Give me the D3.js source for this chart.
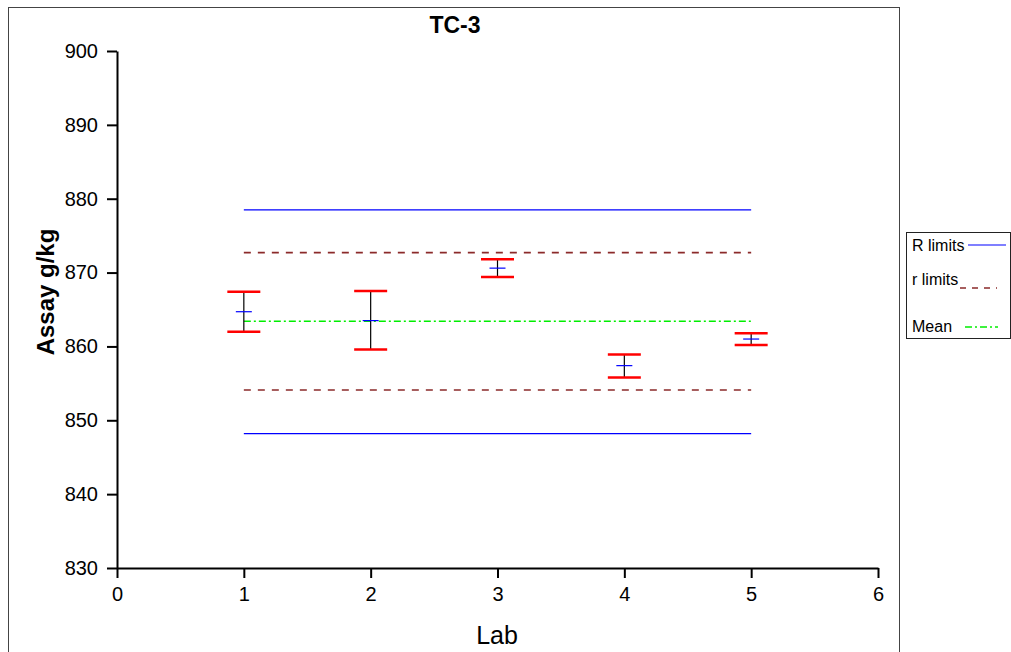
<!DOCTYPE html>
<html>
<head>
<meta charset="utf-8">
<script src="https://cdn.jsdelivr.net/npm/d3@7"></script>
<style>
    body { margin: 0; background: #fff; }
    text { font-family: Arial, "Liberation Sans", sans-serif; }
</style>
</head>
<body>
<svg id="chart" width="1011" height="652"></svg>
<script>
const labs = [1, 2, 3, 4, 5];
const labMeans = [864.7, 863.5, 870.6, 857.4, 861.0];
const labUpper = [867.4, 867.5, 871.8, 858.9, 861.8];
const labLower = [862.0, 859.6, 869.4, 855.8, 860.2];

const reproLimits = [848.2, 878.5];   // R limits
const repeatLimits = [854.1, 872.7];  // r limits
const grandMean = 863.4;

const xTicks = [0, 1, 2, 3, 4, 5, 6];
const yTicks = [830, 840, 850, 860, 870, 880, 890, 900];

const svg = d3.select("#chart");

const xScale = d3.scaleLinear().domain([0, 6]).range([117, 878]);
const yScale = d3.scaleLinear().domain([830, 900]).range([568, 51]);

// outer frame
svg.append("rect")
    .attr("x", 8.5).attr("y", 7.5)
    .attr("width", 891).attr("height", 660)
    .attr("fill", "none").attr("stroke", "#444").attr("stroke-width", 1);

// title
svg.append("text")
    .attr("x", 455).attr("y", 33)
    .attr("text-anchor", "middle")
    .style("font-size", "23px").style("font-weight", "bold")
    .text("TC-3");

// axes
const yAxis = svg.append("g")
    .attr("transform", `translate(${xScale(0)},0)`)
    .call(d3.axisLeft(yScale).tickValues(yTicks).tickFormat(d3.format("d"))
        .tickSize(10).tickPadding(9).tickSizeOuter(0));
const xAxis = svg.append("g")
    .attr("transform", `translate(0,${yScale(830)})`)
    .call(d3.axisBottom(xScale).tickValues(xTicks).tickFormat(d3.format("d"))
        .tickSize(10).tickPadding(9).tickSizeOuter(0));

[xAxis, yAxis].forEach(function (g) {
    g.attr("font-size", null).attr("font-family", null);
    g.select(".domain").attr("stroke", "#000").attr("stroke-width", 2);
    g.selectAll(".tick line").attr("stroke", "#000").attr("stroke-width", 2);
    g.selectAll(".tick text")
        .attr("fill", "#000")
        .style("font-size", "20px");
});

// axis titles
svg.append("text")
    .attr("transform", "translate(54,292) rotate(-90)")
    .attr("text-anchor", "middle")
    .style("font-size", "24px").style("font-weight", "bold")
    .text("Assay g/kg");
svg.append("text")
    .attr("x", 497).attr("y", 644)
    .attr("text-anchor", "middle")
    .style("font-size", "25px")
    .text("Lab");

// limit lines
const x0 = xScale(labs[0]);
const x1 = xScale(labs[labs.length - 1]);

svg.selectAll(".rlim")
    .data(reproLimits)
    .join("line")
    .attr("x1", x0).attr("x2", x1)
    .attr("y1", function (d) { return yScale(d); })
    .attr("y2", function (d) { return yScale(d); })
    .attr("stroke", "#0000ff").attr("stroke-width", 1.2);

svg.selectAll(".rplim")
    .data(repeatLimits)
    .join("line")
    .attr("x1", x0).attr("x2", x1)
    .attr("y1", function (d) { return yScale(d); })
    .attr("y2", function (d) { return yScale(d); })
    .attr("stroke", "#8b2a2a").attr("stroke-width", 1.6)
    .attr("stroke-dasharray", "7,7");

svg.append("line")
    .attr("x1", x0).attr("x2", x1)
    .attr("y1", yScale(grandMean)).attr("y2", yScale(grandMean))
    .attr("stroke", "#00ee00").attr("stroke-width", 1.4)
    .attr("stroke-dasharray", "7,3,2,3");

// error bars
const bars = svg.selectAll(".bar")
    .data(labs)
    .join("g")
    .attr("class", "bar");

bars.append("line")
    .attr("x1", function (d) { return xScale(d); })
    .attr("x2", function (d) { return xScale(d); })
    .attr("y1", function (d, i) { return yScale(labUpper[i]); })
    .attr("y2", function (d, i) { return yScale(labLower[i]); })
    .attr("stroke", "#000").attr("stroke-width", 1.2);

bars.append("line")
    .attr("x1", function (d) { return xScale(d) - 16.5; })
    .attr("x2", function (d) { return xScale(d) + 16.5; })
    .attr("y1", function (d, i) { return yScale(labUpper[i]); })
    .attr("y2", function (d, i) { return yScale(labUpper[i]); })
    .attr("stroke", "#ff0000").attr("stroke-width", 2.5);

bars.append("line")
    .attr("x1", function (d) { return xScale(d) - 16.5; })
    .attr("x2", function (d) { return xScale(d) + 16.5; })
    .attr("y1", function (d, i) { return yScale(labLower[i]); })
    .attr("y2", function (d, i) { return yScale(labLower[i]); })
    .attr("stroke", "#ff0000").attr("stroke-width", 2.5);

bars.append("line")
    .attr("x1", function (d) { return xScale(d) - 8; })
    .attr("x2", function (d) { return xScale(d) + 8; })
    .attr("y1", function (d, i) { return yScale(labMeans[i]); })
    .attr("y2", function (d, i) { return yScale(labMeans[i]); })
    .attr("stroke", "#0000ff").attr("stroke-width", 1.2);

// legend
const legend = svg.append("g");
legend.append("rect")
    .attr("x", 906.5).attr("y", 232.5)
    .attr("width", 104).attr("height", 106)
    .attr("fill", "#fff").attr("stroke", "#222").attr("stroke-width", 1);

const legendItems = [
    { label: "R limits", y: 251, lineY: 245, x1: 968, x2: 1006, color: "#0000ff", dash: null, w: 1.2 },
    { label: "r limits", y: 285, lineY: 288, x1: 960, x2: 997, color: "#8b2a2a", dash: "6,6", w: 1.6 },
    { label: "Mean", y: 332, lineY: 327, x1: 965, x2: 998, color: "#00ee00", dash: "7,3,2,3", w: 1.4 }
];
legendItems.forEach(function (item) {
    legend.append("text")
        .attr("x", 912).attr("y", item.y)
        .style("font-size", "16px")
        .text(item.label);
    legend.append("line")
        .attr("x1", item.x1).attr("x2", item.x2)
        .attr("y1", item.lineY).attr("y2", item.lineY)
        .attr("stroke", item.color).attr("stroke-width", item.w)
        .attr("stroke-dasharray", item.dash);
});
</script>
</body>
</html>
